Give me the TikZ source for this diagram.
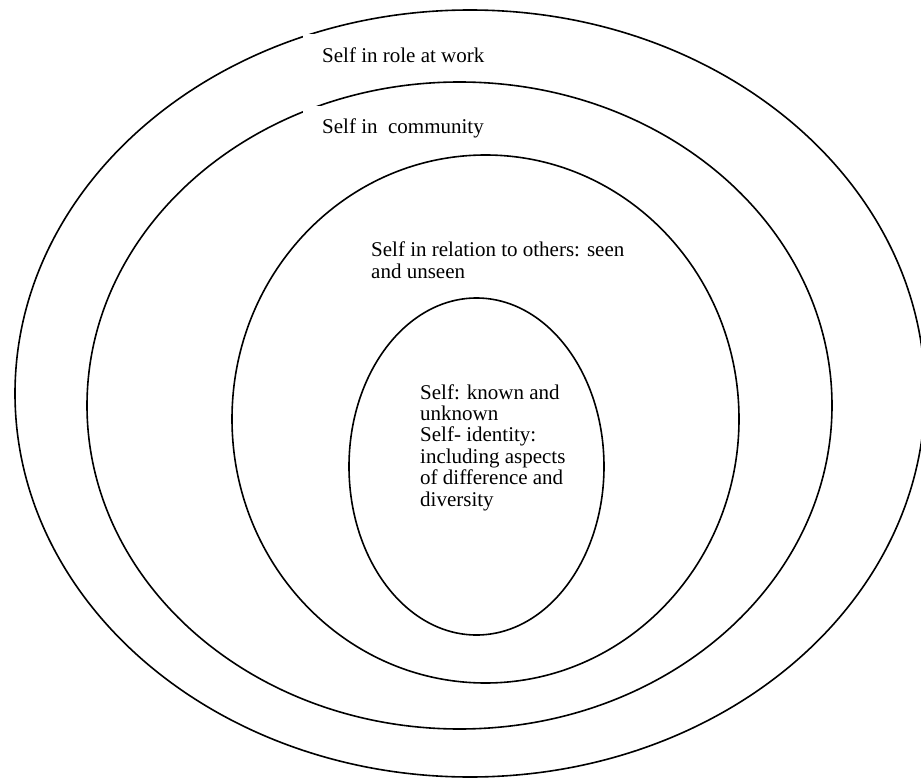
\documentclass[tikz,border=0pt]{standalone}
\usepackage{fontspec}
\setmainfont{Liberation Serif}
\begin{document}
\begin{tikzpicture}[x=1pt,y=-1pt,
  ring/.style={draw=black,line width=1.6pt},
  lbl/.style={anchor=base west,inner sep=0pt,font=\fontsize{21}{21.4}\selectfont,align=left}]
\useasboundingbox (0,0) rectangle (921,778);
\fill[white] (0,0) rectangle (921,778);
\path[ring] (470,393.5) ellipse [x radius=455pt, y radius=383.5pt];
\path[ring] (459.5,405.5) ellipse [x radius=372.5pt, y radius=323.5pt];
\path[ring] (485.5,419) ellipse [x radius=253.5pt, y radius=264pt];
\path[ring] (476.5,466.5) ellipse [x radius=127.5pt, y radius=168.5pt];
\fill[white] (303,34.5) rectangle (520,78);
\fill[white] (303,106.5) rectangle (520,148);
\node[lbl] (work) at (322,63) {Self in role at work};
\node[lbl] (comm) at (322,134) {Self in\ \ community};
\node[lbl] (rel) at (371,278) {Self in relation to others: seen\\and unseen};
\node[lbl] (self) at (420,506) {Self: known and\\unknown\\Self- identity:\\including aspects\\of difference and\\diversity};
\end{tikzpicture}
\end{document}
